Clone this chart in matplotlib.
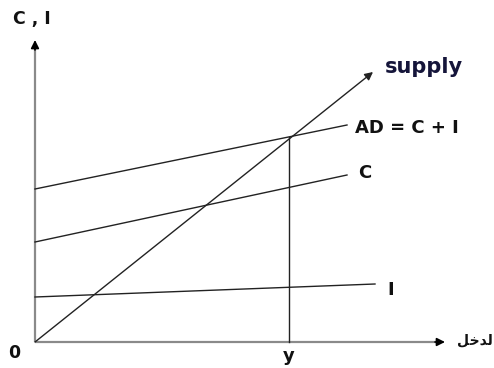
import matplotlib
matplotlib.use("Agg")
import matplotlib.pyplot as plt

# income axis (x) and spending axis (y), sketch units
supply_x = [0, 338]
supply_y = [0, 270]
ad_x = [0, 312]
ad_y = [153, 217]
c_x = [0, 312]
c_y = [100, 167]
i_x = [0, 340]
i_y = [45, 58]
y_eq = 254  # equilibrium income
x_axis_end = 410
y_axis_end = 302

# arabic word for "income" in shaped presentation forms (visual order)
income_label = "\uFEDE\uFEA7\uFEAA\uFEDF\uFE8D"

fig = plt.figure(figsize=(4.94, 3.68), dpi=100)
ax = fig.add_axes([0, 0, 1, 1])
ax.set_xlim(-35, 459)
ax.set_ylim(-26, 342)
ax.axis("off")

axis_col = "#8a8a8a"
line_col = "#222222"

# axes with arrow heads
ax.plot([0, x_axis_end - 8], [0, 0], color=axis_col, lw=1.6, solid_capstyle="butt")
ax.plot([0, 0], [0, y_axis_end - 8], color=axis_col, lw=1.6, solid_capstyle="butt")
ax.annotate("", xy=(x_axis_end, 0), xytext=(x_axis_end - 10, 0),
            arrowprops=dict(arrowstyle="-|>", color="black", lw=1.2,
                            mutation_scale=12, shrinkA=0, shrinkB=0))
ax.annotate("", xy=(0, y_axis_end), xytext=(0, y_axis_end - 10),
            arrowprops=dict(arrowstyle="-|>", color="black", lw=1.2,
                            mutation_scale=12, shrinkA=0, shrinkB=0))

# curves
ax.annotate("", xy=(supply_x[1], supply_y[1]), xytext=(supply_x[0], supply_y[0]),
            arrowprops=dict(arrowstyle="-|>", color=line_col, lw=1.0,
                            mutation_scale=12, shrinkA=0, shrinkB=0))
ax.plot(ad_x, ad_y, color=line_col, lw=1.0)
ax.plot(c_x, c_y, color=line_col, lw=1.0)
ax.plot(i_x, i_y, color=line_col, lw=1.0)

ad_at_eq = ad_y[0] + (ad_y[1] - ad_y[0]) * y_eq / ad_x[1]
ax.plot([y_eq, y_eq], [0, ad_at_eq], color=line_col, lw=1.0)

# labels
bold = dict(family="DejaVu Sans", weight="bold", color="#111111")
ax.text(-22, 323, "C , I", fontsize=12.5, ha="left", va="center", **bold)
ax.text(-21, -11, "0", fontsize=12.5, ha="center", va="center", **bold)
ax.text(y_eq, -14, "y", fontsize=13, ha="center", va="center", **bold)
ax.text(350, 275, "supply", fontsize=15, ha="left", va="center",
        family="DejaVu Sans", weight="bold", color="#15153a")
ax.text(320, 214, "AD = C + I", fontsize=13, ha="left", va="center", **bold)
ax.text(323, 169, "C", fontsize=13, ha="left", va="center", **bold)
ax.text(352, 52, "I", fontsize=13, ha="left", va="center", **bold)
ax.text(422, 2, income_label, fontsize=10, ha="left", va="center", **bold)

fig.savefig("out.png", dpi=100)
